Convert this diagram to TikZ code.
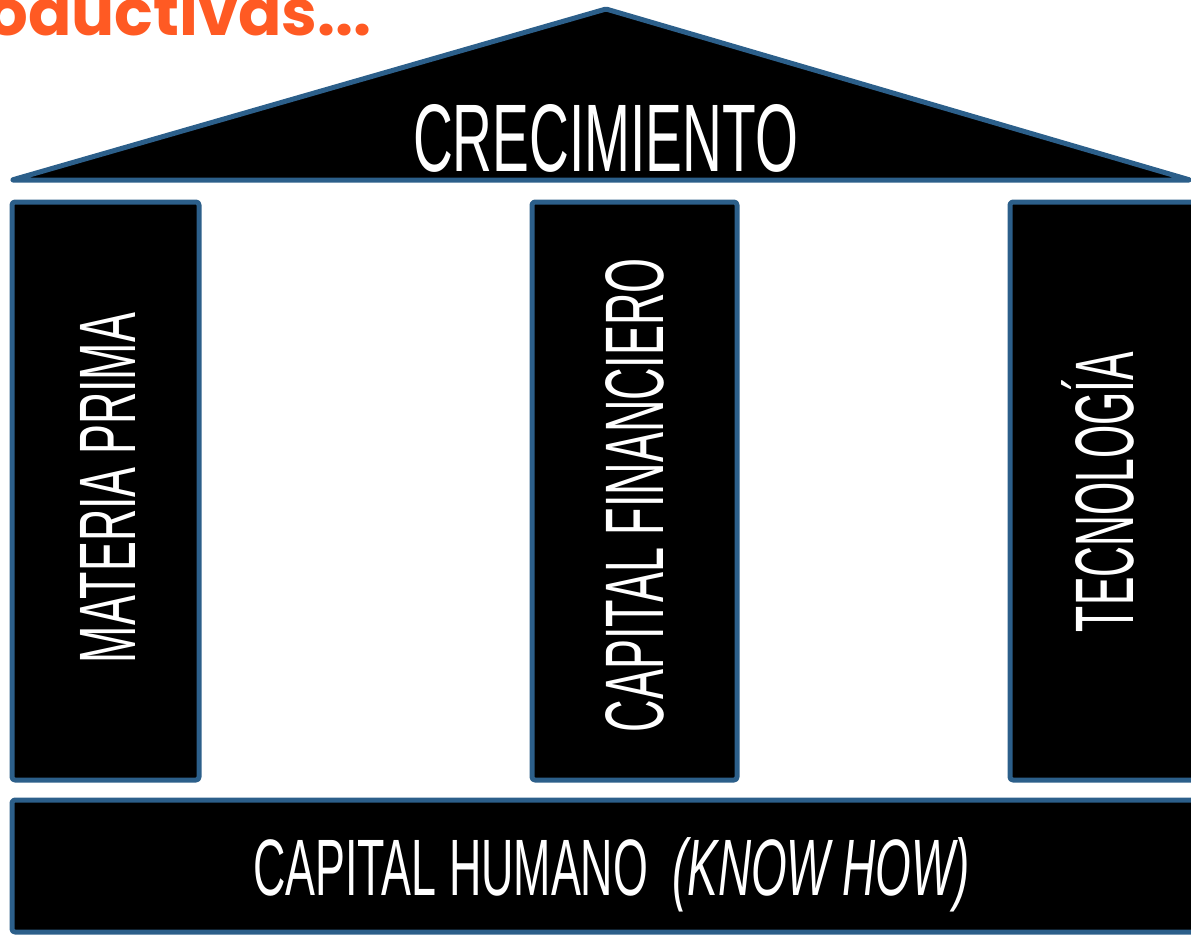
\documentclass[tikz,border=0pt]{standalone}
\usepackage{fontspec}
\setmainfont{Liberation Sans}
\newfontfamily\titlefont{Poppins}[UprightFont=* Bold]
\usepackage{graphicx}
\definecolor{edgeblue}{HTML}{2C5F8A}
\definecolor{titleorange}{HTML}{FF5A23}
\newcommand\cnd[3]{\resizebox{#1}{\height}{\fontsize{#2}{#2}\selectfont #3}}
\tikzset{
  block/.style={fill=black, draw=edgeblue, line width=5pt, rounded corners=3pt, line join=round},
  lbl/.style={text=white, inner sep=0pt, anchor=base},
}
\begin{document}
\begin{tikzpicture}[x=1pt,y=-1pt]
\useasboundingbox (0,0) rectangle (1191,935);
\clip (0,0) rectangle (1191,935);
% title
\node[text=titleorange, inner sep=0pt, anchor=base east] (title) at (372,35) {\titlefont\fontsize{64}{64}\selectfont oductivas...};
% roof
\path[block, rounded corners=1pt] (12,180) -- (606,9) -- (1190,180) -- cycle;
% pillars
\path[block] (12,202) rectangle (199,780);
\path[block] (532,202) rectangle (737,780);
\path[block] (1010,202) rectangle (1230,780);
% base
\path[block] (12,800) rectangle (1230,932);
% texts
\node[lbl] (crec) at (605.5,171) {\cnd{385pt}{96pt}{CRECIMIENTO}};
\node[lbl, rotate=90] (mp) at (135,488) {\cnd{350pt}{80pt}{MATERIA PRIMA}};
\node[lbl, rotate=90] (cf) at (663,495) {\cnd{474pt}{83pt}{CAPITAL FINANCIERO}};
\node[lbl, rotate=90] (tec) at (1133,492) {\cnd{280pt}{83pt}{TECNOLOG\'IA}};
\node[lbl, anchor=base west] (ch) at (253,895) {\cnd{395pt}{80pt}{CAPITAL HUMANO}};
\node[lbl, anchor=base west] (kh) at (672,895) {\cnd{298pt}{80pt}{\itshape (KNOW HOW)}};
\end{tikzpicture}
\end{document}
